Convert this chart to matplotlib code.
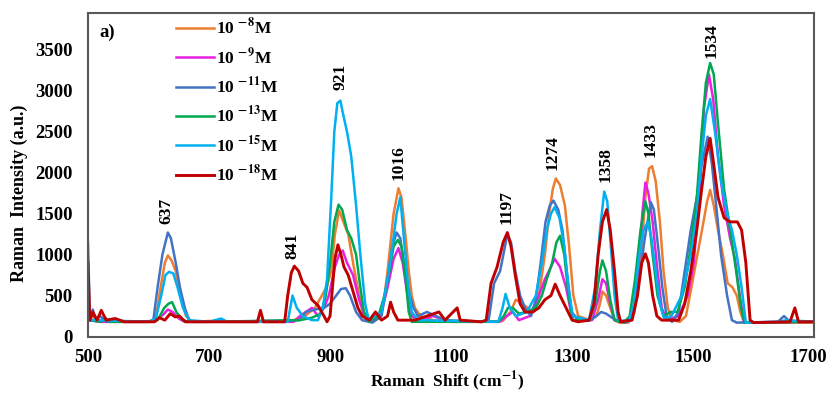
import matplotlib
matplotlib.use("Agg")
import matplotlib.pyplot as plt
import matplotlib.transforms as mtransforms

plt.rcParams['font.family'] = ['Liberation Serif', 'DejaVu Serif']
plt.rcParams['font.weight'] = 'bold'
plt.rcParams['mathtext.fontset'] = 'stix'
plt.rcParams['mathtext.default'] = 'bf'

# Raman spectra: (shift cm-1, intensity a.u.)
s8 = [(500, 200), (510, 250), (520, 180), (560, 180), (600, 180), (612, 220), (620, 600), (627, 900),
      (632, 990), (638, 930), (645, 800), (652, 500), (662, 250), (672, 180), (700, 190), (760, 180),
      (820, 180), (840, 200), (860, 260), (875, 350), (885, 480), (895, 620), (902, 800), (908, 1250),
      (915, 1540), (922, 1400), (930, 1250), (938, 900), (948, 500), (958, 250), (968, 180), (980, 220),
      (990, 500), (995, 800), (1000, 1150), (1005, 1500), (1013, 1810), (1018, 1700), (1025, 1200),
      (1030, 800), (1035, 500), (1040, 350), (1050, 250), (1070, 200), (1100, 180), (1150, 180),
      (1185, 190), (1198, 300), (1207, 450), (1218, 400), (1235, 300), (1245, 500), (1255, 1000),
      (1262, 1500), (1268, 1800), (1273, 1930), (1280, 1850), (1288, 1600), (1295, 1100), (1302, 500),
      (1310, 250), (1330, 200), (1340, 250), (1346, 400), (1350, 550), (1356, 500), (1363, 350),
      (1370, 200), (1378, 170), (1393, 170), (1403, 300), (1413, 900), (1421, 1700), (1427, 2050),
      (1432, 2080), (1438, 1900), (1445, 1400), (1451, 800), (1458, 350), (1465, 200), (1478, 180),
      (1488, 250), (1497, 600), (1507, 1000), (1517, 1400), (1523, 1650), (1528, 1790), (1534, 1600),
      (1541, 1300), (1549, 1000), (1557, 650), (1565, 600), (1572, 500), (1578, 300), (1584, 170),
      (1600, 170), (1700, 170)]

s9 = [(500, 200), (520, 180), (600, 180), (612, 200), (626, 280), (632, 330), (640, 300), (650, 220),
      (660, 180), (800, 180), (840, 180), (850, 250), (860, 300), (870, 350), (880, 250), (890, 350),
      (898, 500), (908, 850), (915, 1000), (921, 1050), (928, 900), (938, 750), (948, 450), (958, 220),
      (970, 180), (985, 300), (995, 600), (1005, 950), (1013, 1080), (1020, 900), (1028, 500),
      (1035, 250), (1045, 200), (1070, 250), (1100, 180), (1180, 180), (1192, 250), (1202, 300),
      (1212, 200), (1230, 250), (1245, 500), (1255, 700), (1265, 850), (1271, 950), (1280, 850),
      (1290, 600), (1298, 300), (1310, 200), (1333, 200), (1343, 450), (1350, 700), (1356, 650),
      (1363, 400), (1370, 200), (1388, 170), (1400, 250), (1409, 800), (1416, 1500), (1421, 1880),
      (1426, 1750), (1433, 1400), (1441, 800), (1448, 350), (1456, 200), (1476, 250), (1491, 500),
      (1501, 900), (1511, 1800), (1518, 2800), (1526, 3200), (1533, 2900), (1541, 2200), (1551, 1600),
      (1561, 1200), (1569, 950), (1577, 500), (1584, 170), (1700, 180)]

s11 = [(500, 1150), (503, 250), (508, 330), (512, 200), (520, 250), (530, 180), (600, 180), (608, 200),
       (615, 600), (623, 1000), (632, 1270), (637, 1200), (645, 900), (652, 600), (660, 350), (668, 180),
       (700, 180), (720, 200), (730, 180), (850, 200), (860, 300), (875, 330), (890, 350), (900, 400),
       (910, 500), (918, 580), (926, 590), (933, 500), (943, 300), (953, 200), (970, 170), (985, 250),
       (995, 700), (1003, 1100), (1010, 1270), (1016, 1200), (1022, 900), (1030, 550), (1038, 350),
       (1045, 250), (1060, 300), (1075, 250), (1090, 200), (1150, 180), (1162, 200), (1171, 650),
       (1181, 800), (1193, 1250), (1199, 1150), (1206, 800), (1214, 500), (1222, 350), (1232, 250),
       (1240, 450), (1248, 900), (1256, 1400), (1263, 1600), (1269, 1660), (1277, 1550), (1284, 1300),
       (1291, 800), (1299, 300), (1310, 200), (1330, 200), (1340, 250), (1348, 300), (1356, 280),
       (1368, 220), (1378, 180), (1390, 200), (1400, 250), (1409, 600), (1420, 1200), (1430, 1640),
       (1435, 1550), (1442, 1100), (1449, 600), (1456, 250), (1465, 180), (1476, 300), (1486, 800),
       (1496, 1300), (1506, 1700), (1514, 2100), (1524, 2440), (1531, 2100), (1538, 1600), (1546, 1000),
       (1556, 500), (1564, 200), (1572, 170), (1640, 180), (1650, 250), (1660, 180), (1700, 180)]

s13 = [(500, 450), (503, 200), (520, 180), (530, 220), (540, 180), (600, 180), (615, 200), (626, 350),
       (633, 400), (639, 420), (646, 300), (656, 200), (666, 180), (700, 180), (850, 200), (870, 230),
       (885, 280), (893, 500), (900, 900), (907, 1400), (914, 1610), (920, 1550), (928, 1300), (935, 1200),
       (943, 1000), (950, 600), (956, 300), (964, 180), (980, 250), (990, 500), (998, 800), (1005, 1100),
       (1012, 1180), (1018, 1100), (1025, 700), (1030, 300), (1035, 180), (1178, 180), (1187, 250),
       (1194, 350), (1202, 350), (1212, 280), (1225, 300), (1240, 350), (1250, 500), (1258, 700),
       (1267, 900), (1274, 1150), (1280, 1230), (1287, 1000), (1294, 500), (1301, 200), (1328, 200),
       (1338, 400), (1346, 800), (1350, 930), (1356, 800), (1363, 450), (1370, 200), (1386, 170),
       (1395, 250), (1404, 700), (1413, 1300), (1421, 1650), (1426, 1500), (1433, 1000), (1441, 500),
       (1451, 250), (1463, 300), (1474, 300), (1486, 600), (1496, 1100), (1506, 1700), (1514, 2500),
       (1521, 3100), (1528, 3340), (1534, 3200), (1541, 2600), (1551, 1800), (1561, 1300), (1571, 800),
       (1579, 350), (1585, 170), (1700, 180)]

s15 = [(500, 200), (520, 200), (600, 180), (612, 220), (621, 500), (628, 750), (634, 790), (641, 770),
       (648, 600), (657, 350), (667, 200), (700, 180), (720, 220), (730, 180), (830, 180), (838, 500),
       (845, 350), (855, 250), (870, 200), (880, 200), (888, 350), (895, 700), (902, 1700), (907, 2500),
       (912, 2850), (917, 2880), (922, 2700), (928, 2500), (935, 2200), (943, 1600), (950, 1000),
       (958, 400), (964, 200), (985, 300), (995, 700), (1003, 1100), (1010, 1500), (1016, 1700),
       (1022, 1200), (1028, 700), (1035, 300), (1045, 200), (1178, 180), (1185, 350), (1190, 520),
       (1197, 350), (1207, 250), (1225, 300), (1240, 500), (1250, 900), (1258, 1300), (1265, 1500),
       (1271, 1580), (1279, 1450), (1287, 1100), (1294, 600), (1301, 250), (1328, 200), (1338, 600),
       (1346, 1300), (1353, 1770), (1358, 1650), (1364, 1100), (1370, 500), (1376, 200), (1393, 180),
       (1402, 400), (1411, 1000), (1418, 1300), (1425, 1400), (1431, 1200), (1438, 800), (1445, 400),
       (1452, 220), (1464, 250), (1481, 500), (1496, 1000), (1506, 1500), (1514, 2200), (1521, 2700),
       (1528, 2900), (1536, 2500), (1546, 1900), (1556, 1500), (1564, 1300), (1572, 1000), (1580, 600),
       (1587, 170), (1640, 180), (1655, 200), (1700, 180)]

s18 = [(500, 900), (503, 200), (508, 300), (515, 200), (522, 320), (530, 200), (545, 220), (560, 180),
       (610, 180), (618, 230), (627, 200), (636, 280), (644, 240), (651, 250), (661, 180), (700, 180),
       (780, 180), (785, 320), (790, 180), (825, 180), (830, 500), (836, 780), (841, 860), (848, 800),
       (855, 650), (862, 600), (870, 450), (880, 380), (890, 250), (895, 180), (900, 250), (904, 600),
       (908, 950), (913, 1120), (918, 1000), (923, 850), (930, 750), (938, 550), (946, 350), (953, 250),
       (965, 200), (975, 300), (985, 200), (995, 250), (1000, 420), (1005, 300), (1012, 200), (1040, 200),
       (1060, 250), (1080, 300), (1090, 200), (1110, 350), (1115, 200), (1150, 180), (1158, 200),
       (1166, 650), (1176, 850), (1186, 1150), (1193, 1270), (1199, 1100), (1206, 750), (1214, 400),
       (1222, 300), (1235, 300), (1245, 350), (1255, 450), (1265, 500), (1272, 640), (1280, 500),
       (1290, 350), (1300, 200), (1310, 180), (1328, 200), (1336, 400), (1343, 1000), (1350, 1400),
       (1357, 1550), (1363, 1300), (1370, 800), (1376, 300), (1380, 180), (1399, 200), (1408, 500),
       (1415, 900), (1421, 1010), (1426, 900), (1433, 500), (1440, 250), (1448, 200), (1476, 200),
       (1486, 400), (1496, 800), (1506, 1300), (1514, 1800), (1521, 2200), (1528, 2420), (1534, 2100),
       (1541, 1700), (1551, 1450), (1561, 1400), (1573, 1400), (1580, 1300), (1587, 900), (1594, 200),
       (1600, 170), (1660, 180), (1668, 350), (1674, 180), (1700, 180)]

series = [s8, s9, s11, s13, s15, s18]
labels = [r'10 $^{-8}$M', r'10 $^{-9}$M', r'10 $^{-11}$M', r'10 $^{-13}$M', r'10 $^{-15}$M', r'10 $^{-18}$M']
colors = ['#ED7D31', '#E820E0', '#4472C4', '#00A850', '#00B0F0', '#C00000']

# peak labels: (text, x, y of text bottom)
peaks = ['637', '841', '921', '1016', '1197', '1274', '1358', '1433', '1534']
peak_x = [630, 837, 918, 1014, 1191, 1267, 1356, 1429, 1530]
peak_y = [1380, 950, 3010, 1910, 1380, 2030, 1885, 2190, 3400]

fig = plt.figure(figsize=(8.3, 3.95), dpi=100)
ax = fig.add_axes([0.106, 0.148, 0.875, 0.819])

for s, lab, c in zip(series, labels, colors):
    xs = [p[0] for p in s]
    ys = [p[1] for p in s]
    lw = 2.1 if c == '#C00000' else 1.8
    ax.plot(xs, ys, color=c, lw=lw, label=lab)

for t, x, y in zip(peaks, peak_x, peak_y):
    ax.text(x, y, t, rotation=90, ha='center', va='bottom', fontsize=12.5, fontweight='bold')

ax.text(0.016, 0.925, 'a)', transform=ax.transAxes, fontsize=13.5, fontweight='bold')

ax.set_xlim(500, 1700)
ax.set_ylim(0, 3950)
ax.set_xticks([500, 700, 900, 1100, 1300, 1500, 1700])
ax.set_yticks([0, 500, 1000, 1500, 2000, 2500, 3000, 3500])
ax.tick_params(length=0, labelsize=13.5)
ax.tick_params(axis='y', pad=11)
ax.tick_params(axis='x', pad=9)
for sp in ax.spines.values():
    sp.set_color('#595959')
    sp.set_linewidth(1.5)

# keep the last x label inside the picture
fig.canvas.draw()
last = ax.get_xticklabels()[-1]
last.set_transform(last.get_transform() + mtransforms.ScaledTranslation(-6 / 100, 0, fig.dpi_scale_trans))

ax.set_xlabel(r'Raman  Shift (cm$^{-1}$)', fontsize=12.5, fontweight='bold')
ax.set_ylabel('Raman  Intensity (a.u.)', fontsize=13, fontweight='bold')
ax.xaxis.set_label_coords(0.495, -0.1)
ax.yaxis.set_label_coords(-0.083, 0.443)

leg = ax.legend(loc='upper left', bbox_to_anchor=(0.1, 1.035), frameon=False, fontsize=12.5,
                handlelength=2.2, handletextpad=0.1, labelspacing=0.5)

fig.savefig('out.png', dpi=100)
